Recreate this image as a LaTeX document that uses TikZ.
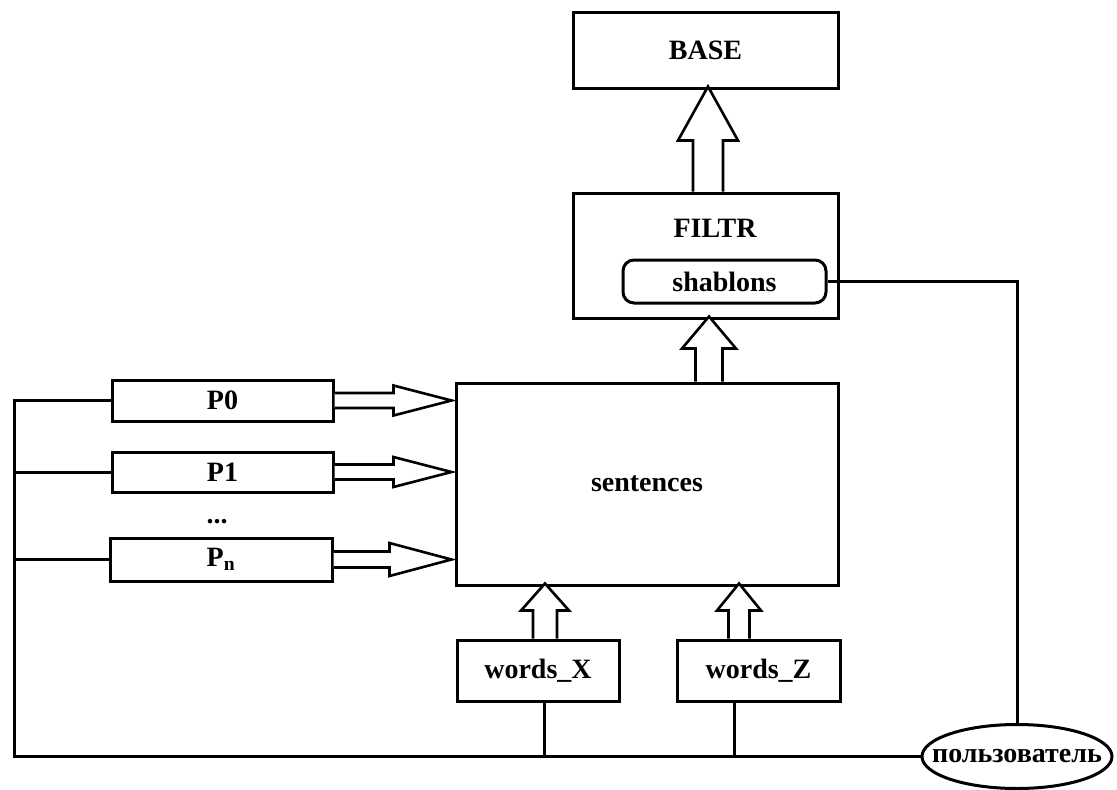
\documentclass[tikz,border=0pt]{standalone}
\usepackage{fontspec}
\setmainfont{Liberation Serif}
\usetikzlibrary{calc,shapes.geometric}
\begin{document}
\begin{tikzpicture}[x=1pt,y=-1pt,
  txt/.style={font=\fontsize{28}{30}\selectfont\bfseries},
  box/.style={draw, line width=3pt, rectangle, inner sep=0pt, txt},
  ln/.style={draw, line width=3pt},
  blk/.style={draw, line width=2.6pt, fill=white, line join=miter}]
\useasboundingbox[fill=white] (0,0) rectangle (1117,790);
% boxes
\node[box, minimum width=265, minimum height=76] (base) at (705.5,50) {BASE};
\node[box, minimum width=265, minimum height=125] (filtr) at (705.5,255.5) {};
\node[txt, anchor=base] (filtrtxt) at (715,237) {FILTR};
\node[box, rounded corners=11pt, minimum width=203, minimum height=43] (shab) at (724.5,281.5) {shablons};
\node[box, minimum width=382, minimum height=202] (sent) at (647,484) {sentences};
\node[box, minimum width=221, minimum height=41] (p0) at (222.5,400.5) {P0};
\node[box, minimum width=221, minimum height=40] (p1) at (222.5,472) {P1};
\node[txt, anchor=base] (dots) at (217,523) {...};
\node[box, minimum width=222, minimum height=43] (pn) at (221,559.5) {P\textsubscript{n}};
\node[box, minimum width=162, minimum height=61] (wx) at (538,670.5) {words\_X};
\node[box, minimum width=163, minimum height=61] (wz) at (758.5,670.5) {words\_Z};
\node[draw, line width=3pt, ellipse, inner xsep=-22pt, inner ysep=0pt, minimum width=190, minimum height=64, txt] (user) at (1017,756.5) {пользователь};
\coordinate (bl) at (14,756.5);
% connectors
\draw[ln] (p0.west) -| (bl) -- (user.west);
\draw[ln] (p1.west) -- (p1.west -| bl);
\draw[ln] (pn.west) -- (pn.west -| bl);
\draw[ln] ($(wx.south)+(6,0)$) -- ($(wx.south |- bl)+(6,0)$);
\draw[ln] ($(wz.south)+(-24,0)$) -- ($(wz.south |- bl)+(-24,0)$);
\draw[ln] (shab.east) -| (user.north);
% block arrows
\draw[blk] ($(filtr.north)+(2.5,0)$) ++(-15,0) -- ++(0,-51) -- ++(-15,0) -- ++(30,-54) -- ++(30,54) -- ++(-15,0) -- ++(0,51);
\draw[blk] ($(sent.north)+(62,0)$) ++(-13.5,0) -- ++(0,-33) -- ++(-13.5,0) -- ++(27,-32) -- ++(27,32) -- ++(-13.5,0) -- ++(0,33);
\draw[blk] ($(wx.north)+(7,0)$) ++(-12,0) -- ++(0,-28) -- ++(-12,0) -- ++(24,-27) -- ++(24,27) -- ++(-12,0) -- ++(0,28);
\draw[blk] ($(wz.north)+(-19.5,0)$) ++(-10.5,0) -- ++(0,-28) -- ++(-11.5,0) -- ++(22,-27) -- ++(22,27) -- ++(-11.5,0) -- ++(0,28);
\draw[blk] (p0.east) ++(0,-7.5) -- ++(59,0) -- ++(0,-7.5) -- ++(58,15) -- ++(-58,15) -- ++(0,-7.5) -- ++(-59,0);
\draw[blk] (p1.east) ++(0,-7.5) -- ++(59,0) -- ++(0,-7.5) -- ++(58,15) -- ++(-58,15) -- ++(0,-7.5) -- ++(-59,0);
\draw[blk] (pn.east) ++(0,-8) -- ++(56,0) -- ++(0,-8.5) -- ++(62,16.5) -- ++(-62,16.5) -- ++(0,-8.5) -- ++(-56,0);
\end{tikzpicture}
\end{document}
